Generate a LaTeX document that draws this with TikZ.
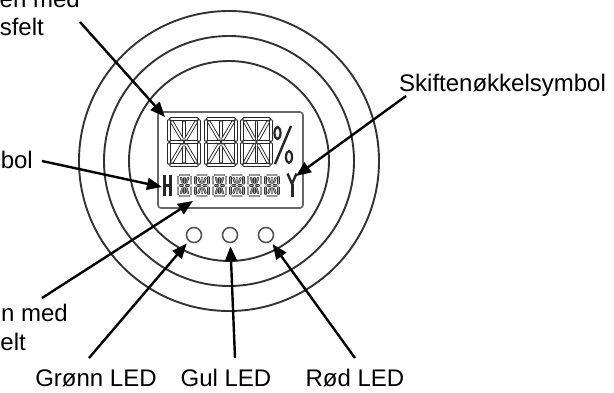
\documentclass[tikz,border=0pt]{standalone}
\usepackage{fontspec}
\setmainfont{Liberation Sans}
\usetikzlibrary{arrows.meta}

% one 14-segment LCD character, top-left corner (#2,#3), width #4, height #5
\newcommand\lcdglyph[5][lcdseg]{%
  \begin{scope}[shift={(#2,#3)}]
    \draw[#1] (2,0) -- ({#4-2},0);
    \draw[#1] (2,#5) -- ({#4-2},#5);
    \draw[#1] (2,{#5/2}) -- ({#4/2-1.5},{#5/2});
    \draw[#1] ({#4/2+1.5},{#5/2}) -- ({#4-2},{#5/2});
    \draw[#1] (0,2) -- (0,{#5/2-2});
    \draw[#1] (0,{#5/2+2}) -- (0,{#5-2});
    \draw[#1] (#4,2) -- (#4,{#5/2-2});
    \draw[#1] (#4,{#5/2+2}) -- (#4,{#5-2});
    \draw[#1] ({#4/2},3) -- ({#4/2},{#5/2-2.5});
    \draw[#1] ({#4/2},{#5/2+2.5}) -- ({#4/2},{#5-3});
    \draw[#1] (3,3) -- ({#4/2-2},{#5/2-3});
    \draw[#1] ({#4-3},3) -- ({#4/2+2},{#5/2-3});
    \draw[#1] (3,{#5-3}) -- ({#4/2-2},{#5/2+3});
    \draw[#1] ({#4-3},{#5-3}) -- ({#4/2+2},{#5/2+3});
  \end{scope}}

\tikzset{
  ring/.style={draw=black!80, line width=1.9pt},
  lcdframe/.style={draw=black!60, line width=1.6pt, rounded corners=3pt},
  lcdseg/.style={draw=black!85, line width=0.9pt, double=white, double distance=1.8pt, line cap=round},
  lcdsmall/.style={draw=black!80, line width=0.6pt, double=black!40, double distance=1.1pt, line cap=round},
  lcdsym/.style={draw=black!85, line width=2.4pt},
  led/.style={circle, draw=black!70, line width=1.5pt, minimum size=15pt, inner sep=0pt},
  callout/.style={draw=black, line width=2.4pt, -{Triangle[length=15pt,width=12pt]}},
  label/.style={font=\fontsize{24}{28}\selectfont, inner sep=0pt}
}

\begin{document}
\begin{tikzpicture}[x=1pt, y=-1pt]
  \useasboundingbox (0,0) rectangle (614,392);
  \fill[white] (0,0) rectangle (614,392);

  % housing rings
  \coordinate (hub) at (229,161);
  \draw[ring] (hub) circle[radius=150pt];
  \draw[ring] (hub) circle[radius=125pt];
  \draw[ring] (hub) circle[radius=100pt];

  % display window
  \draw[lcdframe] (158,112) rectangle (303,208);

  % upper line: three characters and a percent sign
  \lcdglyph{169}{119}{30}{46}
  \lcdglyph{206}{119}{30}{46}
  \lcdglyph{242}{119}{29}{46}
  \draw[lcdsym, line width=2.4pt] (291,126) -- (275,164);
  \draw[lcdsym, line width=2.2pt] (277.5,133) ellipse[x radius=3pt, y radius=6pt];
  \draw[lcdsym, line width=2.2pt] (289,157) ellipse[x radius=3pt, y radius=6pt];

  % lower line: unit symbol, six small characters, wrench symbol
  \draw[lcdsym, line width=2.2pt] (164.5,175) -- (164.5,196) (170.5,175) -- (170.5,196) (164.5,185.5) -- (170.5,185.5);
  \foreach \k in {0,...,5} {
    \lcdglyph[lcdsmall]{178+17.5*\k}{175}{13}{21}
  }
  \draw[lcdsym, line width=3pt] (292,184) -- (292,197);
  \draw[lcdsym, line width=2.4pt] (287.5,173.5) -- (292,184) -- (296.5,173.5);

  % indicator lamps
  \node[led] (ledgreen) at (194,235) {};
  \node[led] (ledyellow) at (230,235) {};
  \node[led] (ledred) at (266,235) {};

  % callout targets on the display
  \coordinate (mainline) at (165,117);
  \coordinate (unitsym) at (162,187);
  \coordinate (smallline) at (193,201);
  \coordinate (wrench) at (296,176);

  % callout tails
  \coordinate (tmain) at (80,22);
  \coordinate (tunit) at (42,161);
  \coordinate (tsmall) at (42,298);
  \coordinate (twrench) at (406,96);
  \coordinate (tgreen) at (89,358);
  \coordinate (tyellow) at (235,358);
  \coordinate (tred) at (355,358);

  \draw[callout] (tmain) -- (mainline);
  \draw[callout] (tunit) -- (unitsym);
  \draw[callout] (tsmall) -- (smallline);
  \draw[callout] (twrench) -- (wrench);
  \draw[callout, shorten >=3pt] (tgreen) -- (ledgreen);
  \draw[callout, shorten >=3pt] (tyellow) -- (ledyellow);
  \draw[callout, shorten >=3pt] (tred) -- (ledred);

  % labels
  \node[label, anchor=base east] (lmain1) at (80,7) {en med};
  \node[label, anchor=base east] (lmain2) at (44,35) {sfelt};
  \node[label, anchor=base east] (lunit) at (33,168) {bol};
  \node[label, anchor=base east] (lsmall1) at (68,321) {n med};
  \node[label, anchor=base east] (lsmall2) at (26,350) {elt};
  \node[label, anchor=base west] (lwrench) at (399,91) {Skiftenøkkelsymbol};
  \node[label, anchor=base] (lgreen) at (96,386) {Grønn LED};
  \node[label, anchor=base] (lyellow) at (226,386) {Gul LED};
  \node[label, anchor=base] (lred) at (355,386) {Rød LED};
\end{tikzpicture}
\end{document}
